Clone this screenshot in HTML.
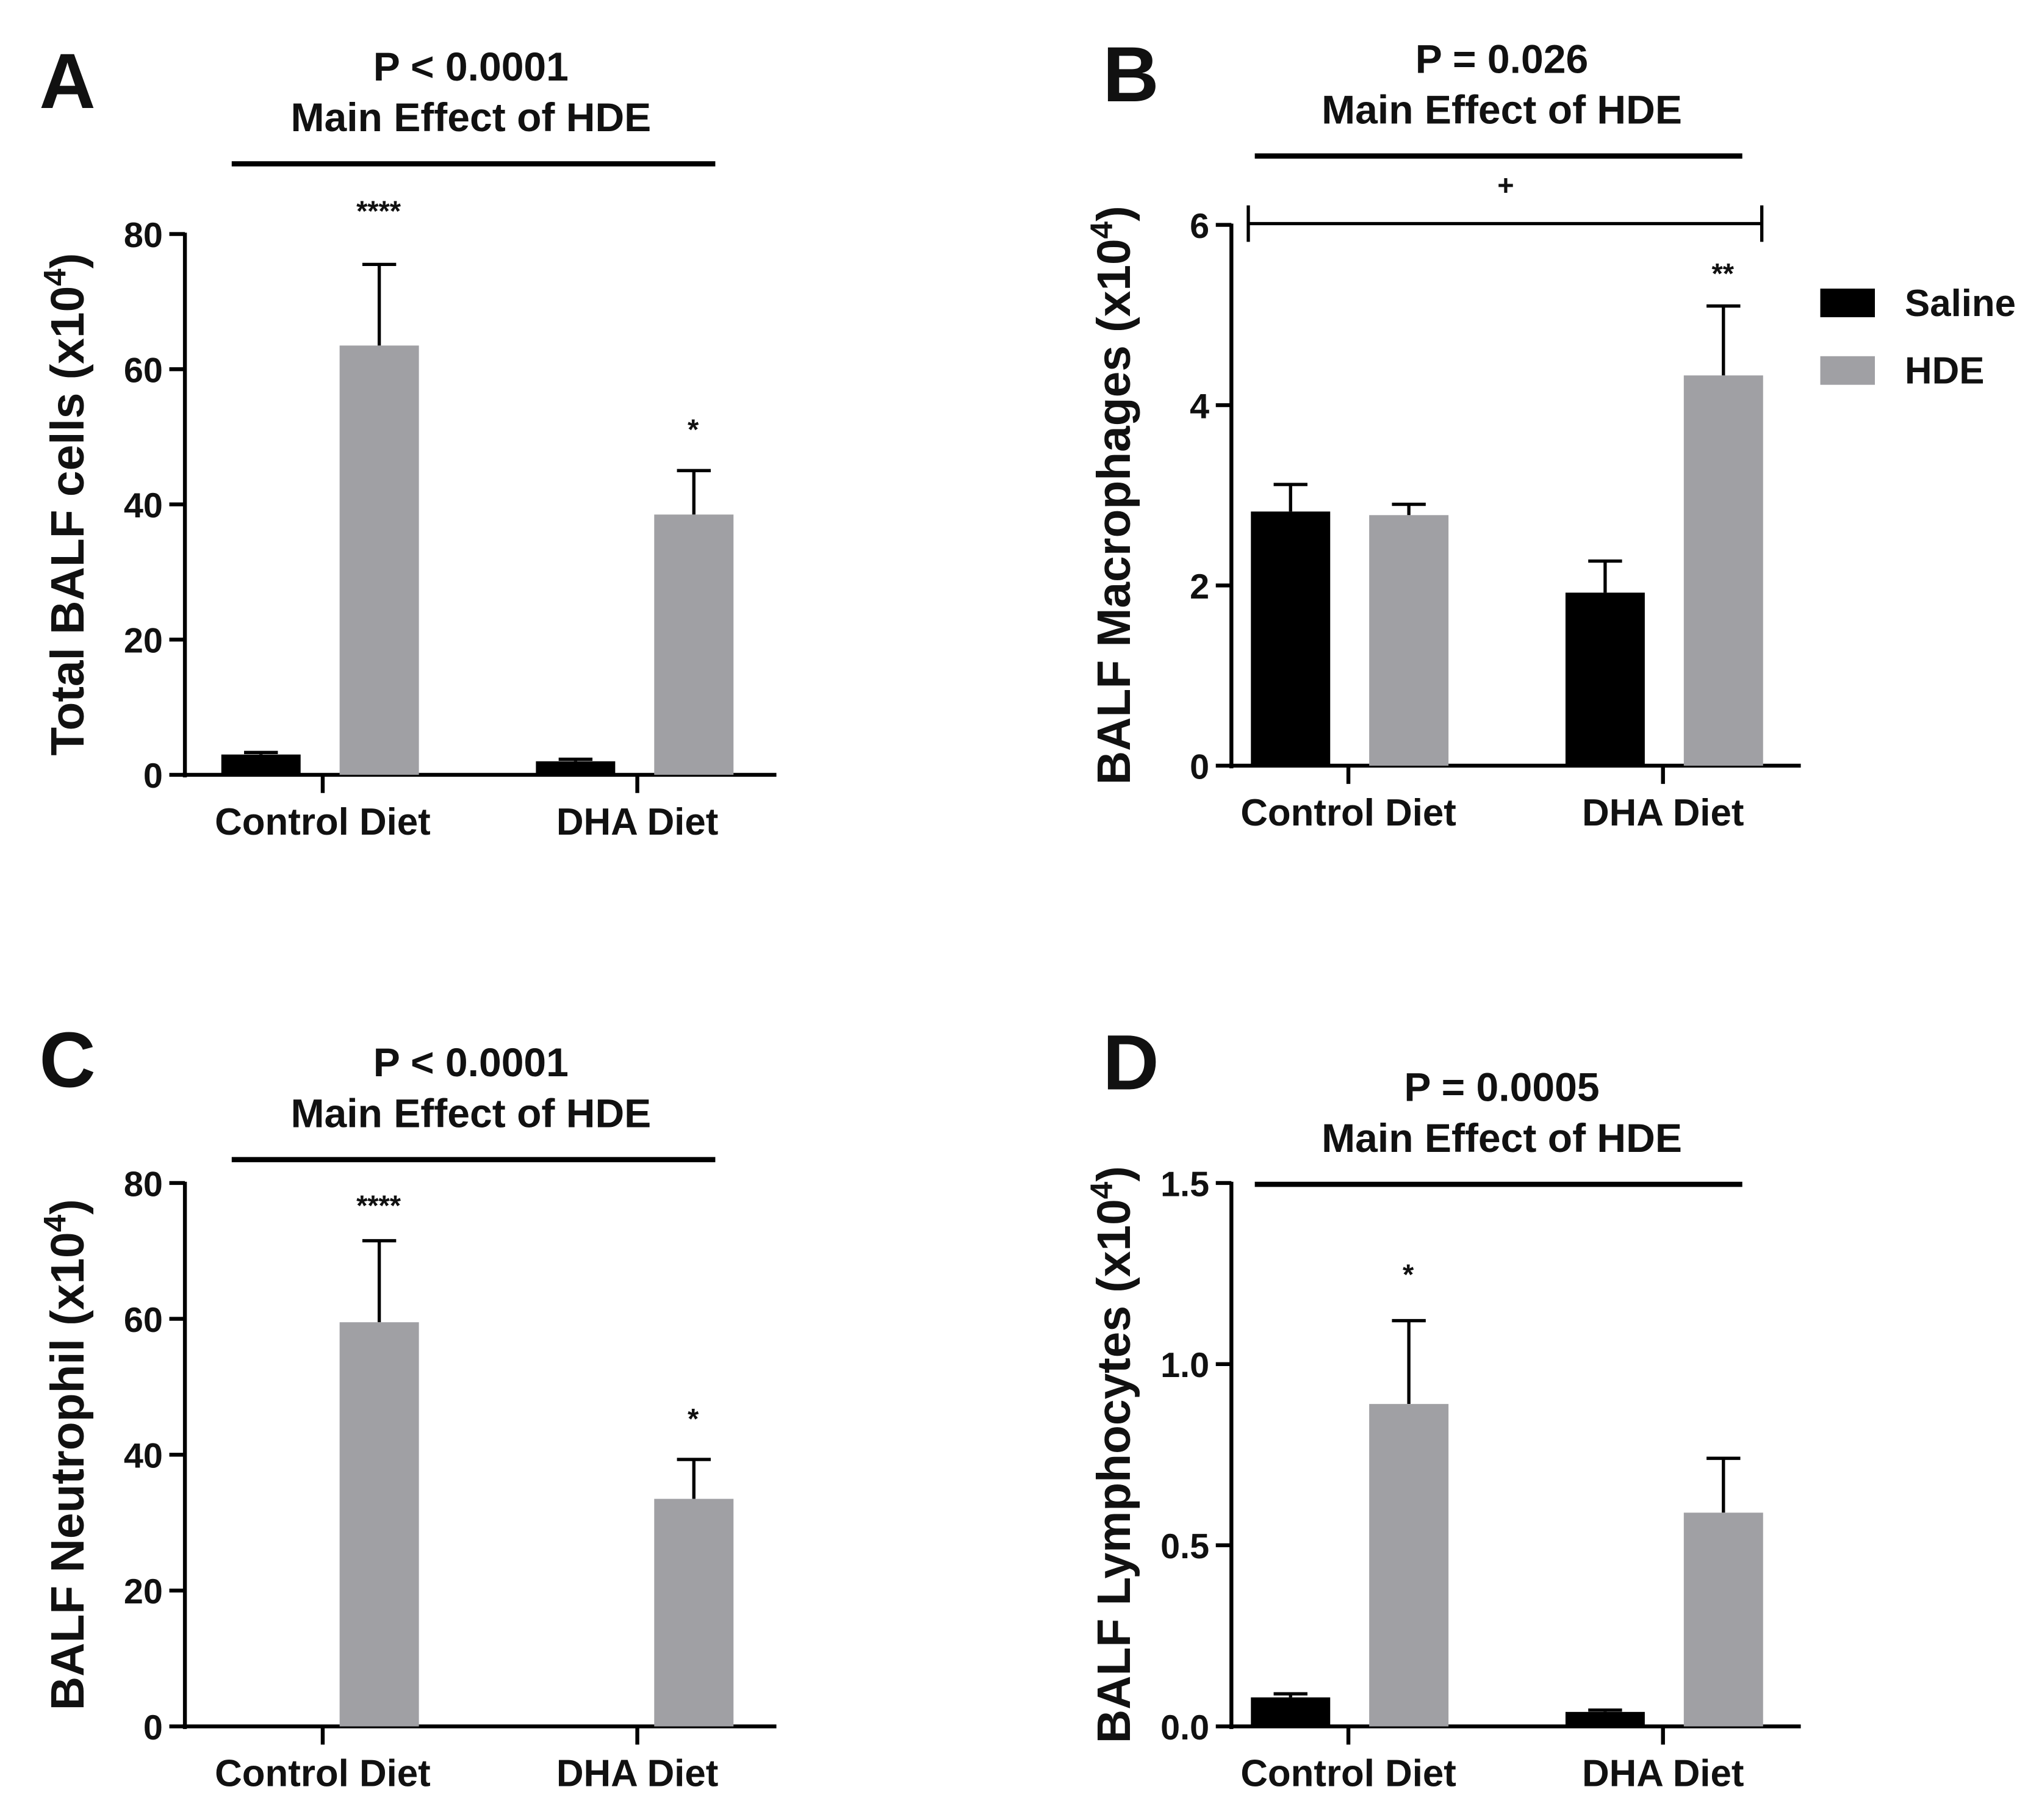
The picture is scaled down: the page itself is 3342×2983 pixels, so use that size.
<!DOCTYPE html>
<html><head><meta charset="utf-8">
<style>
html,body{margin:0;padding:0;background:#fff;}
svg{display:block;}
text{font-family:"Liberation Sans",Arial,sans-serif;font-weight:bold;fill:#111;}
</style></head>
<body>
<svg id="fig" width="3342" height="2983" viewBox="0 0 1568 1400" xmlns="http://www.w3.org/2000/svg"></svg>
<script>
// ---- data ----
const categories = ["Control Diet", "DHA Diet"];
const seriesNames = ["Saline", "HDE"];
// Panel A: Total BALF cells
const aSaline = [3, 2];
const aSalineErr = [3.3, 2.3];
const aHDE = [63.5, 38.5];
const aHDEErr = [75.5, 45];
const aTicks = [0, 20, 40, 60, 80];
// Panel B: Macrophages
const bSaline = [2.82, 1.92];
const bSalineErr = [3.12, 2.27];
const bHDE = [2.78, 4.33];
const bHDEErr = [2.9, 5.1];
const bTicks = [0, 2, 4, 6];
// Panel C: Neutrophil
const cSaline = [0, 0];
const cSalineErr = [0, 0];
const cHDE = [59.5, 33.5];
const cHDEErr = [71.5, 39.3];
const cTicks = [0, 20, 40, 60, 80];
// Panel D: Lymphocytes
const dSaline = [0.08, 0.04];
const dSalineErr = [0.09, 0.045];
const dHDE = [0.89, 0.59];
const dHDEErr = [1.12, 0.74];
const dTicks = ["0.0", "0.5", "1.0", "1.5"];

const NS = "http://www.w3.org/2000/svg";
const svg = document.getElementById("fig");
function el(tag, attrs, parent) {
  const e = document.createElementNS(NS, tag);
  for (const k in attrs) e.setAttribute(k, attrs[k]);
  (parent || svg).appendChild(e);
  return e;
}
function txt(s, attrs, parent) { const t = el("text", attrs, parent); t.textContent = s; return t; }

function panel(cfg) {
  const g = el("g", {});
  
  
  const ax = cfg.ax, yTop = cfg.yTop, y0 = cfg.y0, xEnd = ax + cfg.axLen;
  const ticks = cfg.ticks.map(Number);
  const yMax = ticks[ticks.length - 1];
  const Y = v => y0 - (v / yMax) * (y0 - yTop);
  const groupOffsets = [0, 242];
  const ya = el("line", {x1: ax, y1: yTop - 1, x2: ax, y2: y0 + 2, stroke: "#000", "stroke-width": 3}, g);
  
  
  const xa = el("line", {x1: ax - 2, y1: y0, x2: xEnd, y2: y0, stroke: "#000", "stroke-width": 3}, g);
  
  
  cfg.ticks.forEach(t => {
    const y = Y(Number(t));
    el("line", {x1: ax - 12, y1: y, x2: ax, y2: y, stroke: "#000", "stroke-width": 3}, g);
    const tl = txt(String(t), {x: ax - 17, y: y + 10, "text-anchor": "end", "font-size": 27}, g);
    
    
  });
  categories.forEach((c, i) => {
    const cx = ax + cfg.tickOff + groupOffsets[i];
    el("line", {x1: cx, y1: y0, x2: cx, y2: y0 + 14, stroke: "#000", "stroke-width": 3}, g);
    const cl = txt(c, {x: cx, y: y0 + 46, "text-anchor": "middle", "font-size": 29}, g);
    
    
    const series = [[cfg.sal[i], cfg.salErr[i], "#000", ax + cfg.barOff], [cfg.hde[i], cfg.hdeErr[i], "#a0a0a4", ax + cfg.barOff + 91]];
    series.forEach((s, j) => {
      const bx = s[3] + groupOffsets[i], w = 61;
      const mid = bx + w / 2;
      if (s[1] > s[0]) {
        el("line", {x1: mid, y1: Y(s[1]), x2: mid, y2: Y(s[0]), stroke: "#000", "stroke-width": 2.5}, g);
        el("line", {x1: mid - 13, y1: Y(s[1]), x2: mid + 13, y2: Y(s[1]), stroke: "#000", "stroke-width": 2.5}, g);
      }
      const h = y0 - Y(s[0]);
      const r = el("rect", {x: bx, y: Y(s[0]), width: w, height: Math.max(h, 0), fill: s[2]}, g);
      
      
    });
  });
  const cx = cfg.titleX;
  const p = txt(cfg.p, {x: cx, y: cfg.titleY, "text-anchor": "middle", "font-size": 31}, g);
  
  
  const m = txt("Main Effect of HDE", {x: cx, y: cfg.titleY + 39, "text-anchor": "middle", "font-size": 31}, g);
  
  
  const bl = el("line", {x1: cfg.lineX[0], y1: cfg.titleY + 64, x2: cfg.lineX[1], y2: cfg.titleY + 64, stroke: "#000", "stroke-width": 4}, g);
  
  
  const L = txt(cfg.letter, {x: cfg.letterX, y: cfg.letterY, "font-size": 60}, g);
  
  
  const yl = txt("", {transform: `translate(${ax - 78},${(yTop + y0) / 2}) rotate(-90)`, "text-anchor": "middle", "font-size": 36}, g);
  
  
  const t1 = el("tspan", {}, yl); t1.textContent = cfg.ylabel + " (x10";
  const t2 = el("tspan", {dy: -14, "font-size": 24}, yl); t2.textContent = "4";
  const t3 = el("tspan", {dy: 14}, yl); t3.textContent = ")";
  cfg.stars.forEach(s => {
    const st = txt(s[0], {x: s[1], y: s[2], "text-anchor": "middle", "font-size": 22, "font-weight": "normal", fill: "#333"}, g);
    
    
  });
  return g;
}

panel({name: "panel-a-total-cells", ax: 142, axLen: 455, barOff: 28, tickOff: 106, lineX: [178, 550], yTop: 180, y0: 596, ticks: aTicks, sal: aSaline, salErr: aSalineErr, hde: aHDE, hdeErr: aHDEErr,
  p: "P < 0.0001", titleX: 362, titleY: 62, letter: "A", letterX: 30, letterY: 83, ylabel: "Total BALF cells",
  stars: [["****", 291, 170], ["*", 533, 338]]});
panel({name: "panel-b-macrophages", ax: 947, axLen: 438, barOff: 15, tickOff: 90, lineX: [965, 1340], yTop: 173, y0: 589, ticks: bTicks, sal: bSaline, salErr: bSalineErr, hde: bHDE, hdeErr: bHDEErr,
  p: "P = 0.026", titleX: 1155, titleY: 56, letter: "B", letterX: 848, letterY: 78, ylabel: "BALF Macrophages",
  stars: [["**", 1325, 218], ["+", 1158, 150]]});
panel({name: "panel-c-neutrophil", ax: 142, axLen: 455, barOff: 28, tickOff: 106, lineX: [178, 550], yTop: 910, y0: 1328, ticks: cTicks, sal: cSaline, salErr: cSalineErr, hde: cHDE, hdeErr: cHDEErr,
  p: "P < 0.0001", titleX: 362, titleY: 828, letter: "C", letterX: 30, letterY: 836, ylabel: "BALF Neutrophil",
  stars: [["****", 291, 935], ["*", 533, 1099]]});
panel({name: "panel-d-lymphocytes", ax: 947, axLen: 438, barOff: 15, tickOff: 90, lineX: [965, 1340], yTop: 910, y0: 1328, ticks: dTicks, sal: dSaline, salErr: dSalineErr, hde: dHDE, hdeErr: dHDEErr,
  p: "P = 0.0005", titleX: 1155, titleY: 847, letter: "D", letterX: 848, letterY: 838, ylabel: "BALF Lymphocytes",
  stars: [["*", 1083, 988]]});

const br = el("path", {d: "M960 158 V186 M960 172 H1355 M1355 158 V186", stroke: "#000", "stroke-width": 2.5, fill: "none"});



const leg = el("g", {});


const legColors = ["#000", "#a0a0a4"];
seriesNames.forEach((n, i) => {
  const r = el("rect", {x: 1400, y: 222 + i * 52, width: 42, height: 22, fill: legColors[i]}, leg);
  
  
  const t = txt(n, {x: 1465, y: 243 + i * 52, "font-size": 29, "font-weight": "normal"}, leg);
  
  
});
</script>
</body></html>
